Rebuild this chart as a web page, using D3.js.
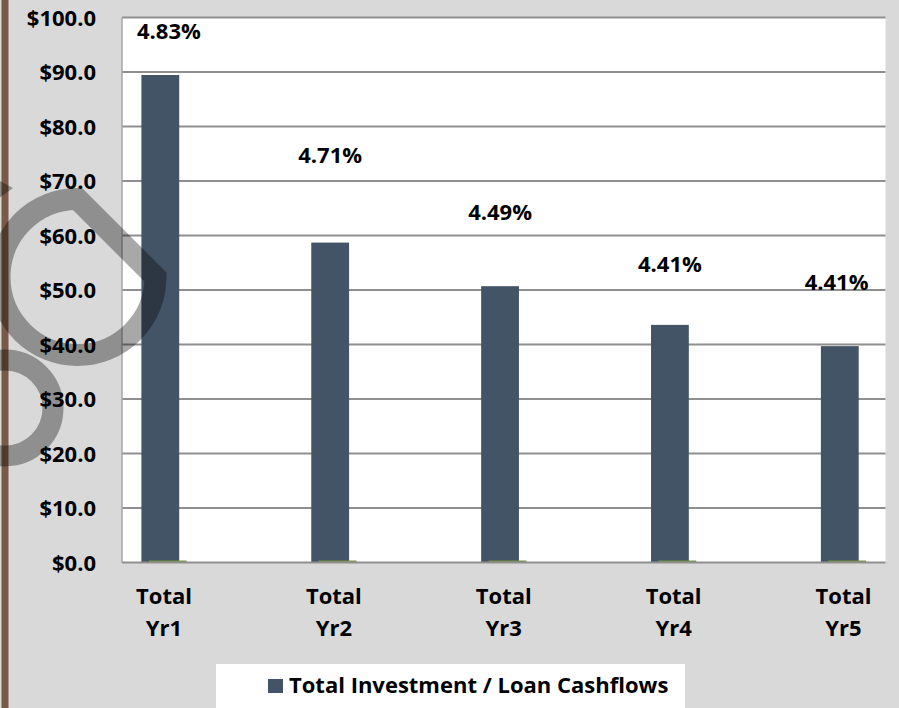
<!DOCTYPE html>
<html>
<head>
<meta charset="utf-8">
<script src="https://cdn.jsdelivr.net/npm/d3@7/dist/d3.min.js"></script>
<style>
  html, body { margin: 0; padding: 0; background: #d9d9d9; }
  svg { display: block; }
  text { font-family: "Open Sans", Lato, sans-serif; font-weight: 700; fill: #000; }
</style>
</head>
<body>
<svg id="chart" width="899" height="708"></svg>
<script>
// Yearly totals, $ millions
const categories = ["Total Yr1", "Total Yr2", "Total Yr3", "Total Yr4", "Total Yr5"];
const cashflows = [89.45, 58.7, 50.7, 43.6, 39.7];
// companion series plotted at zero
const companion = [0, 0, 0, 0, 0];
// yield for each year, shown as labels on a hidden marker series
const rates = ["4.83%", "4.71%", "4.49%", "4.41%", "4.41%"];
const rateMarker = [97.6, 74.8, 64.3, 54.7, 51.5];
const yTicks = [0, 10, 20, 30, 40, 50, 60, 70, 80, 90, 100];
const legendLabel = "Total Investment / Loan Cashflows";

const W = 899, H = 708;
const plot = { left: 122, right: 885.5, top: 17.5, bottom: 562.5 };
const barColor = "#435466";
const greenColor = "#77933c";
const gridColor = "#8f8f8f";
const fontFamily = "'Open Sans', Lato, sans-serif";

const svg = d3.select("#chart");

// decorative brown strip at the left edge
svg.append("rect").attr("x", 1.5).attr("y", 0).attr("width", 7).attr("height", H)
  .attr("fill", "#7a5947");

// plot background
svg.append("rect")
  .attr("x", plot.left).attr("y", plot.top)
  .attr("width", plot.right - plot.left).attr("height", plot.bottom - plot.top)
  .attr("fill", "#ffffff");

const x = d3.scalePoint().domain(categories).range([plot.left + 42, plot.right - 42]);
const y = d3.scaleLinear().domain([0, 100]).range([plot.bottom, plot.top]);

// horizontal gridlines
svg.append("g").selectAll("line").data(yTicks.filter(t => t > 0)).join("line")
  .attr("x1", plot.left).attr("x2", plot.right)
  .attr("y1", d => y(d)).attr("y2", d => y(d))
  .attr("stroke", gridColor).attr("stroke-width", 2);

// y axis: labels only, with a plain vertical rule
const yAxis = d3.axisLeft(y).tickValues(yTicks).tickSize(0).tickPadding(26)
  .tickFormat(d => "$" + d3.format(".1f")(d));
const yg = svg.append("g").attr("transform", `translate(${plot.left},0)`).call(yAxis);
yg.select(".domain").remove();
yg.selectAll("text").attr("font-size", 22).attr("font-family", fontFamily)
  .attr("font-weight", 700).attr("fill", "#000").attr("dy", "0.36em");
svg.append("line").attr("x1", plot.left).attr("x2", plot.left)
  .attr("y1", plot.top).attr("y2", plot.bottom)
  .attr("stroke", "#a6a6a6").attr("stroke-width", 1.5);

// bars
const barW = 37.8, shift = 3.7;
svg.append("g").selectAll("rect").data(categories).join("rect")
  .attr("x", (d, i) => x(d) - shift - barW / 2)
  .attr("y", (d, i) => y(cashflows[i]))
  .attr("width", barW)
  .attr("height", (d, i) => y(0) - y(cashflows[i]))
  .attr("fill", barColor);

// zero-valued companion series
svg.append("g").selectAll("line").data(categories).join("line")
  .attr("x1", (d, i) => x(d) + shift - barW / 2)
  .attr("x2", (d, i) => x(d) + shift + barW / 2)
  .attr("y1", (d, i) => y(companion[i]) - 1)
  .attr("y2", (d, i) => y(companion[i]) - 1)
  .attr("stroke", greenColor).attr("stroke-width", 2);

// category axis line
svg.append("line").attr("x1", plot.left).attr("x2", plot.right)
  .attr("y1", plot.bottom).attr("y2", plot.bottom)
  .attr("stroke", gridColor).attr("stroke-width", 2);

// category labels on two lines
const cat = svg.append("g").selectAll("text").data(categories).join("text")
  .attr("x", d => x(d)).attr("text-anchor", "middle").attr("font-size", 22);
cat.append("tspan").attr("x", d => x(d)).attr("y", 604).text(d => d.split(" ")[0]);
cat.append("tspan").attr("x", d => x(d)).attr("y", 636).text(d => d.split(" ")[1]);

// rate labels, kept inside the plot area
svg.append("g").selectAll("text").data(categories).join("text")
  .attr("font-size", 22).attr("text-anchor", "middle").attr("dy", "0.36em")
  .attr("y", (d, i) => y(rateMarker[i]))
  .text((d, i) => rates[i])
  .each(function (d) {
    const w = this.getComputedTextLength();
    const cx = Math.max(plot.left + 15 + w / 2, Math.min(plot.right - 17 - w / 2, x(d) - shift));
    d3.select(this).attr("x", cx);
  });

// legend
const lg = svg.append("g");
lg.append("rect").attr("x", 216).attr("y", 664).attr("width", 469).attr("height", 50)
  .attr("fill", "#ffffff");
lg.append("rect").attr("x", 268).attr("y", 679).attr("width", 15).attr("height", 14)
  .attr("fill", barColor);
lg.append("text").attr("x", 289).attr("y", 693).attr("font-size", 22).text(legendLabel);

// translucent hand-drawn rings over the left side
const rings = svg.append("g").attr("fill", "none").attr("stroke", "#000")
  .attr("stroke-opacity", 0.34);
const c1 = { x: 77.5, y: 277, r: 78 };
rings.append("path")
  .attr("d", `M${c1.x + c1.r},${c1.y} A${c1.r},${c1.r} 0 1 1 ${c1.x},${c1.y - c1.r} Z`)
  .attr("stroke-width", 22).attr("stroke-linejoin", "miter");
rings.append("circle").attr("cx", 5).attr("cy", 408).attr("r", 48).attr("stroke-width", 21);
svg.append("path").attr("d", "M-2,180 L13,188 L-2,199 Z")
  .attr("fill", "#000").attr("fill-opacity", 0.34);
</script>
</body>
</html>
